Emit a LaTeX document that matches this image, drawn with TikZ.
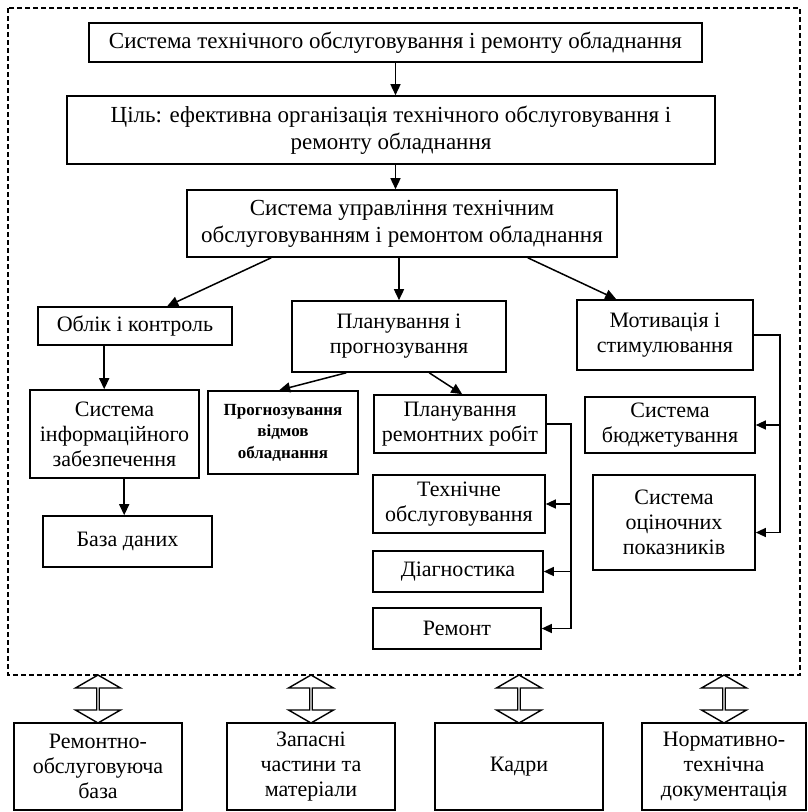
\documentclass[tikz,border=0pt]{standalone}
\usepackage{fontspec}
\setmainfont{Liberation Serif}
\usetikzlibrary{arrows.meta,shapes.arrows}

\begin{document}
\begin{tikzpicture}
[x=1pt,y=-1pt,
  box/.style={draw,line width=1.6pt,align=center,inner sep=2pt,
    font=\fontsize{22}{25}\selectfont},%
  bigBox/.style={box,font=\fontsize{23}{27}\selectfont},%
  smallBox/.style={box,font=\bfseries\fontsize{17}{21.5}\selectfont},%
  darkArrow/.style={line width=1.5pt,-{Triangle[length=11pt,width=10pt]}},%
  thinLine/.style={line width=1.2pt},%
  thinArrow/.style={thinLine,-{Triangle[length=10pt,width=9pt]}},%
  dashFrame/.style={line width=1.2pt,dash pattern=on 5pt off 3pt},%
  dblArrow/.style={draw,double arrow,shape border rotate=90,line width=1.4pt,
    minimum height=48pt,minimum width=45pt,double arrow head extend=11.5pt,
    double arrow tip angle=120,inner sep=0pt}]
\useasboundingbox (0,0) rectangle (807,812);
%% the dashed frame
\draw[dashFrame] (8,8) rectangle (800,675);
%% draw the boxes
\foreach \nodename/\x/\y/\w/\h/\txt in {
  oblik/135/326/194/38/{Облік і контроль},
  plan/399/336.5/214/71/{Планування і\\прогнозування},
  motiv/665/335/176/70/{Мотивація і\\стимулювання},
  sysinfo/114.5/434/169/88/{Система\\інформаційного\\забезпечення},
  planrem/460/424/172/58/{Планування\\ремонтних робіт},
  tech/459/504/172/58/{Технічне\\обслуговування},
  diag/458/571.5/170/41/{Діагностика},
  remont/457/628.5/168/41/{Ремонт},
  budget/670/425/170/56/{Система\\бюджетування},
  otsin/674/522.5/162/95/{Система\\оціночних\\показників},
  baza/127.5/541.5/169/51/{База даних}}
{
  \node (\nodename) at (\x,\y) [box,minimum width=\w,minimum height=\h] {\txt};
}
\foreach \nodename/\x/\y/\w/\h/\txt in {
  top/395.5/42.5/613/39/{Система технічного обслуговування і ремонту обладнання},
  goal/391/130/648/68/{Ціль: ефективна організація технічного обслуговування і\\ремонту обладнання},
  upr/402/223.5/430/67/{Система управління технічним\\обслуговуванням і ремонтом обладнання}}
{
  \node (\nodename) at (\x,\y) [bigBox,minimum width=\w,minimum height=\h] {\txt};
}
\node (prognoz) at (283,432.5) [smallBox,minimum width=150,minimum height=83]
  {Прогнозування\\відмов\\обладнання};
%% resources under the frame
\foreach \nodename/\x/\w/\txt in {remob/98/168/{Ремонтно-\\обслуговуюча\\база},
  zapas/311/168/{Запасні\\частини та\\матеріали},
  kadry/519/168/{Кадри},
  normat/724/164/{Нормативно-\\технічна\\документація}}
{
  \node (\nodename) at (\x,766.5) [box,minimum width=\w,minimum height=87] {\txt};
  \node (arr-\nodename) at (\nodename.north |- 0,699) [dblArrow] {};
}
%% draw the edges
\draw[darkArrow] (top.south) -- (top.south |- goal.north);
\draw[darkArrow] (top.south |- goal.south) -- (top.south |- upr.north);
\draw[darkArrow] ([xshift=85pt]upr.south west) -- ([xshift=130pt]oblik.north west);
\draw[darkArrow] (plan.north |- upr.south) -- (plan.north);
\draw[darkArrow] ([xshift=-90pt]upr.south east) -- ([xshift=40pt]motiv.north west);
\draw[darkArrow] ([xshift=55pt]plan.south west) -- ([xshift=72pt]prognoz.north west);
\draw[darkArrow] ([xshift=138pt]plan.south west) -- ([xshift=89pt]planrem.north west);
\draw[darkArrow] ([xshift=67pt]oblik.south west) -- ([xshift=75pt]sysinfo.north west);
\draw[darkArrow] ([xshift=95pt]sysinfo.south west) -- ([xshift=82pt]baza.north west);
%% the two side buses
\coordinate (pbus) at (571,425);
\coordinate (mbus) at (780,335);
\draw[thinArrow] (planrem.east) -- (planrem.east -| pbus) |- (remont.east);
\foreach \v in {tech,diag}
{
  \draw[thinArrow] (pbus |- \v.east) -- (\v.east);
}
\draw[thinArrow] (motiv.east) -- (motiv.east -| mbus) |- ([yshift=-10pt]otsin.east);
\draw[thinArrow] (mbus |- budget.east) -- (budget.east);
\end{tikzpicture}
\end{document}
